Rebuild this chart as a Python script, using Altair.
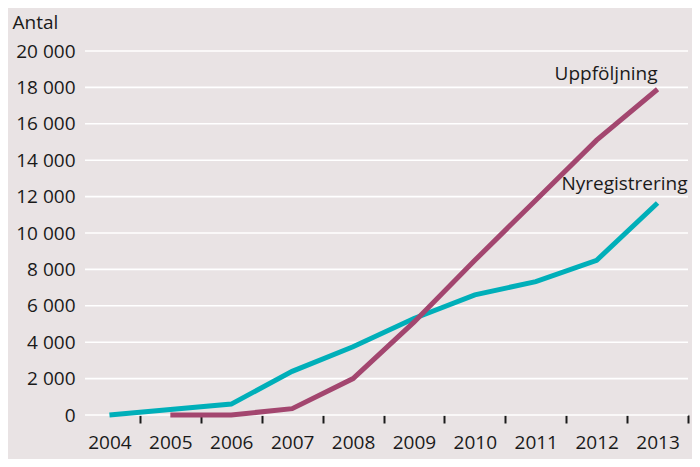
import altair as alt
import pandas as pd

years = [2004, 2005, 2006, 2007, 2008, 2009, 2010, 2011, 2012, 2013]
nyregistrering = [0, 300, 600, 2400, 3750, 5300, 6600, 7330, 8500, 11650]
uppfoljning = [None, 0, 0, 350, 2000, 5100, 8500, 11800, 15100, 17900]
y_ticks = [0, 2000, 4000, 6000, 8000, 10000, 12000, 14000, 16000, 18000, 20000]
series_labels = ["Nyregistrering", "Uppföljning"]

BG = "#e9e3e4"
TEAL = "#00afb9"
MAROON = "#a3466f"
TXT = "#1a1a1a"
FONT = "Open Sans"
FS = 19

rows = []
for name, vals in zip(series_labels, [nyregistrering, uppfoljning]):
    for yr, v in zip(years, vals):
        if v is not None:
            rows.append({"year": yr, "value": v, "series": name})
df = pd.DataFrame(rows)

grid_df = pd.DataFrame({"v": y_ticks})
lab_df = pd.DataFrame({
    "year": [years[-1], years[-1]],
    "value": [nyregistrering[-1], uppfoljning[-1]],
    "series": series_labels,
})

xscale = alt.Scale(domain=[2003.5, 2013.5], nice=False, zero=False)
yscale = alt.Scale(domain=[0, 20000], nice=False)

yaxis = alt.Axis(
    title="Antal", titleAngle=0, titleX=-67, titleY=-23, titleAlign="left",
    titleBaseline="alphabetic", titleFont=FONT, titleFontSize=FS,
    titleFontWeight="normal", titleColor=TXT,
    values=y_ticks, grid=False, ticks=False, domain=False,
    labelPadding=4, labelFont=FONT, labelFontSize=FS, labelColor=TXT,
    labelOverlap=False, labelFlush=False, labelBound=False,
    labelExpr="replace(format(datum.value, ','), ',', ' ')",
)
xaxis = alt.Axis(
    title=None, values=years, format="d", grid=False, domain=False,
    ticks=True, tickSize=8, tickWidth=2, tickColor=TXT,
    tickOffset=30.45, labelOffset=-30.45,
    labelPadding=10, labelFont=FONT, labelFontSize=FS, labelColor=TXT,
    labelFlush=False, labelOverlap=False,
)

grid = alt.Chart(grid_df).mark_rule(color="white", strokeWidth=1.6).encode(
    y=alt.Y("v:Q", scale=yscale, axis=yaxis),
    x=alt.value(6),
    x2=alt.value(609),
)

line_base = alt.Chart(df).encode(
    x=alt.X("year:Q", scale=xscale, axis=xaxis),
    y=alt.Y("value:Q", scale=yscale, axis=yaxis),
)

teal = line_base.transform_filter(alt.datum.series == "Nyregistrering").mark_line(
    color=TEAL, strokeWidth=5, strokeCap="butt", strokeJoin="miter"
)
maroon = line_base.transform_filter(alt.datum.series == "Uppföljning").mark_line(
    color=MAROON, strokeWidth=5, strokeCap="butt", strokeJoin="miter"
)

lab_up = alt.Chart(lab_df).transform_filter(alt.datum.series == "Uppföljning").mark_text(
    align="right", baseline="alphabetic", dx=0, dy=-9, font=FONT, fontSize=FS, color=TXT
).encode(x=alt.X("year:Q", scale=xscale, axis=xaxis),
         y=alt.Y("value:Q", scale=yscale, axis=yaxis), text="series:N")

lab_ny = alt.Chart(lab_df).transform_filter(alt.datum.series == "Nyregistrering").mark_text(
    align="right", baseline="alphabetic", dx=30, dy=-13, font=FONT, fontSize=FS, color=TXT
).encode(x=alt.X("year:Q", scale=xscale, axis=xaxis),
         y=alt.Y("value:Q", scale=yscale, axis=yaxis), text="series:N")

chart = alt.layer(grid, teal, maroon, lab_up, lab_ny).properties(
    width=609, height=364,
    autosize=alt.AutoSizeParams(type="none"),
    padding={"left": 71, "top": 43, "right": 4, "bottom": 44},
    background=BG,
).configure_view(stroke=None, fill=BG)

chart.save("out.html", embed_options={"renderer": "svg", "actions": False})
